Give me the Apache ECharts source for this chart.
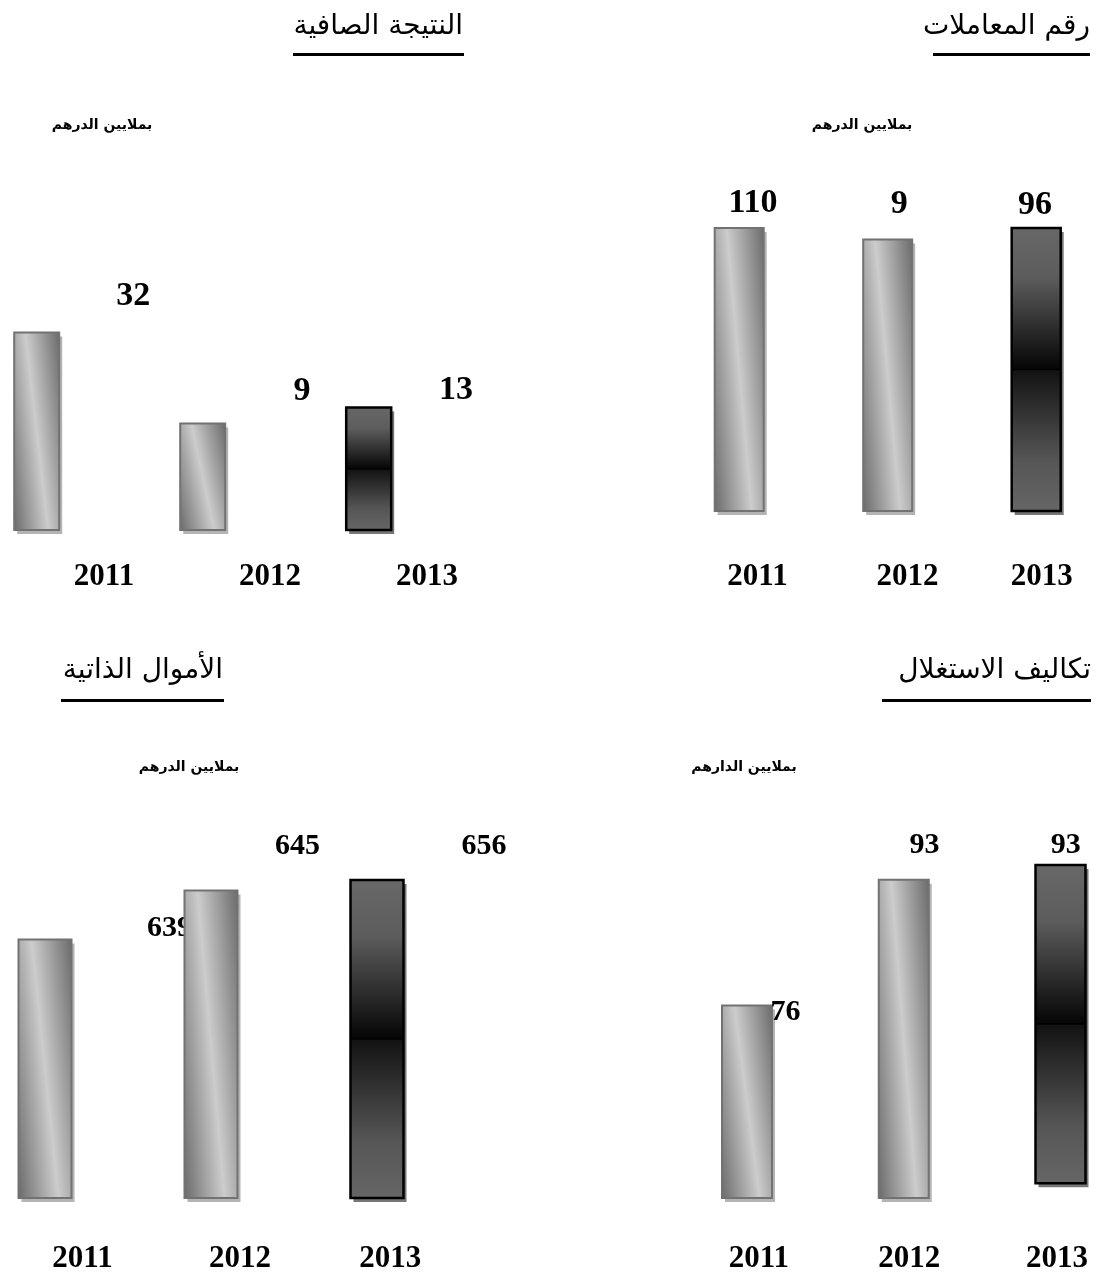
<!DOCTYPE html>
<html>
<head>
<meta charset="utf-8">
<script src="https://cdn.jsdelivr.net/npm/echarts@6/dist/echarts.min.js"></script>
<style>
html,body{margin:0;padding:0;background:#fff;}
#chart{width:1099px;height:1274px;}
</style>
</head>
<body>
<div id="chart"></div>
<script>
// ================= DATA =================
const years = ['2011', '2012', '2013'];

// رقم المعاملات (turnover) — numbers as printed, bar heights as drawn
const turnoverLabels = ['110', '9', '96'];
const turnoverBars = [110, 105.5, 110];

// النتيجة الصافية (net result)
const netLabels = ['32', '9', '13'];
const netBars = [32, 9, 13];

// تكاليف الاستغلال (operating costs) — 2013 bar floats slightly
const costLabels = ['76', '93', '93'];
const costBars = [76, 93, 95];
const costBase = [50, 50, 52];

// الأموال الذاتية (equity)
const equityLabels = ['639', '645', '656'];
const equityBars = [639, 653, 656];

const titles = {
  turnover: 'رقم المعاملات',
  net: 'النتيجة الصافية',
  cost: 'تكاليف الاستغلال',
  equity: 'الأموال الذاتية'
};
const unitDirham = 'بملايين الدرهم';
const unitDirham2 = 'بملايين الدارهم';

// ================= LAYOUT / STYLE =================
const DARK_INDEX = 2;
const panels = [
  { title: titles.turnover, unit: unitDirham, labels: turnoverLabels, bars: turnoverBars, base: null,
    grid: { left: 739.2, width: 297, top: 228, height: 283 }, yMin: 0, yMax: 110, barW: 49,
    labelSize: 34, labelOff: [[13.8, -24.7], [11.5, -35.6], [-1.2, -22.5]],
    yearShift: [18.3, 19.8, 5.5], yearMargin: 66,
    titleRight: 9, titleTop: 13, underline: [933, 53, 157], unitPos: [862, 125] },
  { title: titles.net, unit: unitDirham, labels: netLabels, bars: netBars, base: null,
    grid: { left: 36.7, width: 332, top: 301, height: 229 }, yMin: -18, yMax: 40, barW: 45,
    labelSize: 34, labelOff: [[96.6, -35.9], [99.3, -32.6], [87.3, -17.6]],
    yearShift: [67.3, 67.3, 58.3], yearMargin: 47,
    titleRight: 636, titleTop: 13, underline: [293, 53, 171], unitPos: [102, 125] },
  { title: titles.cost, unit: unitDirham2, labels: costLabels, bars: costBars, base: costBase,
    grid: { left: 747, width: 313.5, top: 865, height: 333 }, yMin: 50, yMax: 95, barW: 50,
    labelSize: 30, labelOff: [[38.5, 6.4], [20.7, -34.8], [5.3, -20]],
    yearShift: [11.8, 5.4, -3.5], yearMargin: 61,
    titleRight: 8, titleTop: 657, underline: [882, 699, 209], unitPos: [744, 767] },
  { title: titles.equity, unit: unitDirham, labels: equityLabels, bars: equityBars, base: null,
    grid: { left: 45, width: 332, top: 880, height: 318 }, yMin: 565, yMax: 656, barW: 53,
    labelSize: 30, labelOff: [[124.5, -11.4], [86.5, -44.2], [107, -34]],
    yearShift: [37.5, 29, 13.3], yearMargin: 61,
    titleRight: 876, titleTop: 657, underline: [61, 699, 163], unitPos: [189, 767] }
];

const ARABIC_FONT = '"DejaVu Sans", sans-serif';
const SERIF_FONT = '"Liberation Serif", "Times New Roman", serif';

function makeRenderItem(p) {
  return function (params, api) {
    const i = params.dataIndex;
    const topPt = api.coord([api.value(0), api.value(1)]);
    const botPt = api.coord([api.value(0), api.value(2)]);
    const w = p.barW;
    const x = topPt[0] - w / 2;
    const y = topPt[1];
    const h = botPt[1] - topPt[1];
    const dark = i === DARK_INDEX;
    let fill;
    if (dark) {
      fill = new echarts.graphic.LinearGradient(0, 0, 0, 1, [
        { offset: 0, color: '#686868' },
        { offset: 0.18, color: '#5c5c5c' },
        { offset: 0.5, color: '#050505' },
        { offset: 0.5, color: '#121212' },
        { offset: 0.82, color: '#565656' },
        { offset: 1, color: '#666666' }
      ]);
    } else {
      const dx = 0.51 * w, dy = h, len = Math.hypot(dx, dy);
      const gx = dy / len, gy = -dx / len;
      const L = 0.8 * w * gx;
      const cx = x + w / 2, cy = y + h / 2;
      fill = new echarts.graphic.LinearGradient(cx - gx * L, cy - gy * L, cx + gx * L, cy + gy * L, [
        { offset: 0, color: '#666666' },
        { offset: 0.5, color: '#cccccc' },
        { offset: 1, color: '#666666' }
      ], true);
    }
    const children = [
      { type: 'rect', shape: { x: x + 3, y: y + 4, width: w, height: h },
        style: { fill: dark ? '#777777' : '#b4b4b4' } },
      { type: 'rect', shape: { x: x, y: y, width: w, height: h },
        style: { fill: fill, stroke: dark ? '#000000' : '#727272', lineWidth: dark ? 2.5 : 2 } }
    ];
    if (dark) {
      children.push({ type: 'line', shape: { x1: x, y1: y + h / 2, x2: x + w, y2: y + h / 2 },
        style: { stroke: '#000', lineWidth: 1.5 } });
    }
    const off = p.labelOff[i];
    children.push({ type: 'text',
      style: { text: p.labels[i], x: topPt[0] + off[0], y: topPt[1] + off[1],
        align: 'center', verticalAlign: 'middle',
        fontFamily: SERIF_FONT, fontWeight: 'bold', fontSize: p.labelSize, fill: '#000' } });
    return { type: 'group', children: children };
  };
}

const option = {
  animation: false,
  backgroundColor: '#ffffff',
  title: panels.map(p => ({
    text: p.title, right: p.titleRight, top: p.titleTop, padding: 0,
    textStyle: { fontFamily: ARABIC_FONT, fontSize: 28, fontWeight: 'normal', color: '#000' }
  })),
  grid: panels.map(p => Object.assign({ outerBoundsMode: 'none', containLabel: false }, p.grid)),
  xAxis: panels.map((p, gi) => {
    const rich = {};
    p.yearShift.forEach((s, k) => {
      rich['s' + k] = {
        fontFamily: SERIF_FONT, fontWeight: 'bold', fontSize: 31, color: '#000',
        padding: s >= 0 ? [0, 0, 0, 2 * s] : [0, -2 * s, 0, 0]
      };
    });
    return {
      type: 'category', gridIndex: gi, data: years, boundaryGap: false,
      axisLine: { show: false, onZero: false }, axisTick: { show: false }, splitLine: { show: false },
      axisLabel: {
        interval: 0, margin: p.yearMargin, verticalAlign: 'middle',
        formatter: (v, k) => '{s' + k + '|' + v + '}', rich: rich
      }
    };
  }),
  yAxis: panels.map((p, gi) => ({
    type: 'value', gridIndex: gi, min: p.yMin, max: p.yMax, show: false
  })),
  series: panels.map((p, gi) => ({
    type: 'custom', xAxisIndex: gi, yAxisIndex: gi,
    renderItem: makeRenderItem(p),
    encode: { x: 0, y: 1 },
    data: years.map((yr, k) => [k, p.bars[k], p.base ? p.base[k] : p.yMin])
  })),
  graphic: {
    elements: panels.flatMap(p => [
      { type: 'rect', shape: { x: p.underline[0], y: p.underline[1], width: p.underline[2], height: 3 },
        style: { fill: '#000' } },
      { type: 'text', style: { text: p.unit, x: p.unitPos[0], y: p.unitPos[1], align: 'center',
        verticalAlign: 'middle', fontFamily: ARABIC_FONT, fontWeight: 'bold', fontSize: 14, fill: '#000' } }
    ])
  }
};

const chart = echarts.init(document.getElementById('chart'));
chart.setOption(option);
</script>
</body>
</html>
